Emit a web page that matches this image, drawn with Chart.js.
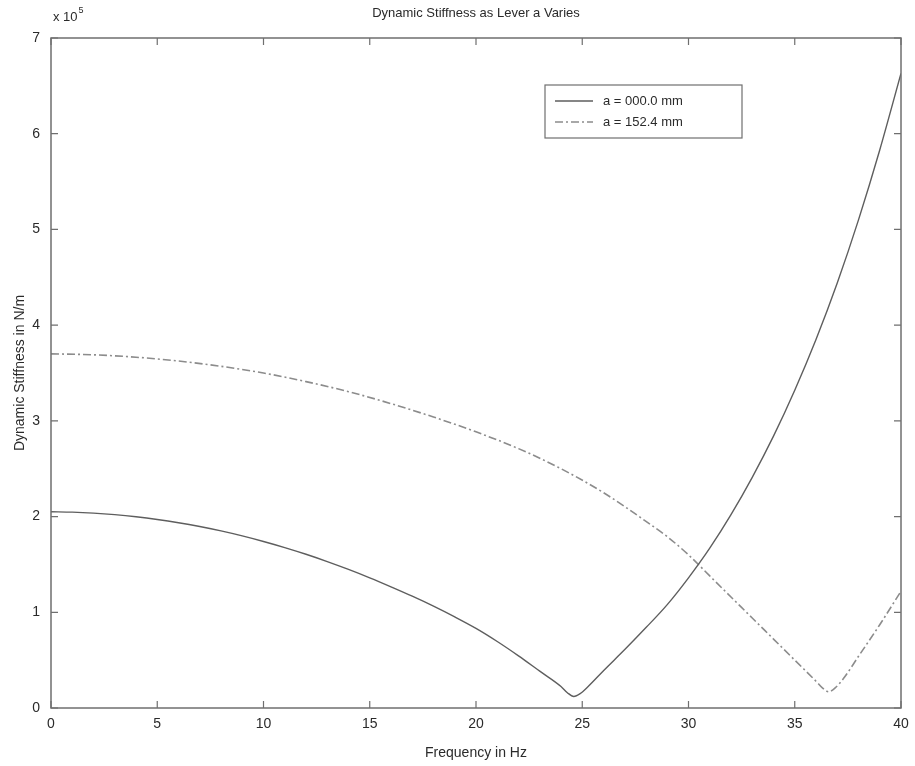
<!DOCTYPE html>
<html>
<head>
<meta charset="utf-8">
<script src="https://cdn.jsdelivr.net/npm/chart.js@4/dist/chart.umd.min.js"></script>
<style>
    html, body { margin: 0; padding: 0; background: #fff; }
    #wrap { width: 915px; height: 766px; }
</style>
</head>
<body>
<div id="wrap"><canvas id="stiffChart" width="915" height="766"></canvas></div>
<script>
// values, stiffness in units of 1e5 N/m
const freqA = [0, 1, 2, 3, 4, 5, 6, 7, 8, 9, 10, 11, 12, 13, 14, 15, 16, 17, 18, 19, 20, 21, 22, 23, 24, 24.3, 24.6, 24.9, 25.3, 26, 27, 28, 29, 30, 31, 32, 33, 34, 35, 36, 37, 38, 39, 40];
const stiffA = [2.05, 2.046, 2.036, 2.020, 1.998, 1.970, 1.936, 1.896, 1.850, 1.798, 1.740, 1.676, 1.606, 1.530, 1.448, 1.360, 1.266, 1.168, 1.064, 0.952, 0.832, 0.695, 0.545, 0.385, 0.225, 0.16, 0.12, 0.15, 0.23, 0.39, 0.61, 0.84, 1.08, 1.36, 1.67, 2.02, 2.41, 2.84, 3.32, 3.85, 4.44, 5.10, 5.83, 6.63];

const freqB = [0, 2, 4, 6, 8, 10, 12, 14, 16, 18, 20, 22, 24, 26, 28, 29, 30, 31, 32, 33, 34, 35, 36, 36.3, 36.6, 36.9, 37.3, 38, 39, 40];
const stiffB = [3.70, 3.69, 3.665, 3.625, 3.57, 3.50, 3.41, 3.305, 3.18, 3.04, 2.885, 2.71, 2.50, 2.25, 1.95, 1.79, 1.60, 1.38, 1.16, 0.94, 0.72, 0.50, 0.28, 0.21, 0.17, 0.21, 0.31, 0.54, 0.87, 1.22];

const seriesLabels = ['a = 000.0 mm', 'a = 152.4 mm'];
const xTicks = [0, 5, 10, 15, 20, 25, 30, 35, 40];
const yTicks = [0, 1, 2, 3, 4, 5, 6, 7];
const chartTitle = 'Dynamic Stiffness as Lever a Varies';
const xTitle = 'Frequency in Hz';
const yTitle = 'Dynamic Stiffness in N/m';
const exponentBase = 'x 10';
const exponentPow = '5';

const FONT = '"Liberation Sans", Arial, sans-serif';
const AXIS_COLOR = '#6f6f6f';
const TEXT_COLOR = '#2a2a2a';

function toPoints(xs, ys) {
    return xs.map((x, i) => ({ x: x, y: ys[i] }));
}

// box around the plot + matlab-style inward ticks
const boxAxes = {
    id: 'boxAxes',
    afterDatasetsDraw(chart) {
        const { ctx, chartArea: a, scales } = chart;
        ctx.save();
        ctx.strokeStyle = AXIS_COLOR;
        ctx.lineWidth = 1.5;
        ctx.strokeRect(a.left, a.top, a.right - a.left, a.bottom - a.top);
        ctx.lineWidth = 1.2;
        ctx.beginPath();
        xTicks.forEach(v => {
            const px = scales.x.getPixelForValue(v);
            ctx.moveTo(px, a.bottom); ctx.lineTo(px, a.bottom - 7);
            ctx.moveTo(px, a.top); ctx.lineTo(px, a.top + 7);
        });
        yTicks.forEach(v => {
            const py = scales.y.getPixelForValue(v);
            ctx.moveTo(a.left, py); ctx.lineTo(a.left + 7, py);
            ctx.moveTo(a.right, py); ctx.lineTo(a.right - 7, py);
        });
        ctx.stroke();
        ctx.restore();
    },
    afterDraw(chart) {
        const { ctx, chartArea: a } = chart;
        ctx.save();
        ctx.fillStyle = TEXT_COLOR;
        // title
        ctx.font = '13px ' + FONT;
        ctx.textAlign = 'center';
        ctx.textBaseline = 'middle';
        ctx.fillText(chartTitle, (a.left + a.right) / 2, 13);
        // exponent
        ctx.textAlign = 'left';
        ctx.font = '13px ' + FONT;
        ctx.fillText(exponentBase, a.left + 2, 17);
        const w = ctx.measureText(exponentBase).width;
        ctx.font = '9px ' + FONT;
        ctx.fillText(exponentPow, a.left + 3 + w, 11);

        // legend
        const lx = 545, ly = 85, lw = 197, lh = 53;
        ctx.fillStyle = '#fff';
        ctx.fillRect(lx, ly, lw, lh);
        ctx.strokeStyle = AXIS_COLOR;
        ctx.lineWidth = 1.2;
        ctx.strokeRect(lx, ly, lw, lh);
        chart.data.datasets.forEach((ds, i) => {
            const yy = ly + 16 + i * 21;
            ctx.strokeStyle = ds.borderColor;
            ctx.lineWidth = ds.borderWidth;
            ctx.setLineDash(ds.borderDash || []);
            ctx.beginPath();
            ctx.moveTo(lx + 10, yy);
            ctx.lineTo(lx + 48, yy);
            ctx.stroke();
            ctx.setLineDash([]);
            ctx.fillStyle = TEXT_COLOR;
            ctx.font = '13px ' + FONT;
            ctx.textBaseline = 'middle';
            ctx.fillText(ds.label, lx + 58, yy);
        });
        ctx.restore();
    }
};

const ctx = document.getElementById('stiffChart').getContext('2d');

const chart = new Chart(ctx, {
    type: 'line',
    data: {
        datasets: [
            {
                label: seriesLabels[0],
                data: toPoints(freqA, stiffA),
                borderColor: '#5e5e5e',
                borderWidth: 1.4,
                pointRadius: 0,
                cubicInterpolationMode: 'monotone'
            },
            {
                label: seriesLabels[1],
                data: toPoints(freqB, stiffB),
                borderColor: '#8c8c8c',
                borderWidth: 1.6,
                borderDash: [8, 3, 2, 3],
                pointRadius: 0,
                cubicInterpolationMode: 'monotone'
            }
        ]
    },
    options: {
        responsive: false,
        animation: false,
        layout: { padding: { top: 38, right: 14, left: 0, bottom: 0 } },
        plugins: {
            legend: { display: false },
            tooltip: { enabled: false }
        },
        scales: {
            x: {
                type: 'linear',
                min: 0,
                max: 40,
                afterFit(scale) { scale.height = 58; },
                afterBuildTicks(scale) { scale.ticks = xTicks.map(v => ({ value: v })); },
                grid: { display: false },
                border: { display: false },
                ticks: { color: TEXT_COLOR, font: { family: FONT, size: 14 }, padding: 0, maxRotation: 0 },
                title: { display: true, text: xTitle, color: TEXT_COLOR, font: { family: FONT, size: 14 }, padding: { top: 0 } }
            },
            y: {
                min: 0,
                max: 7,
                afterFit(scale) { scale.width = 51; },
                afterBuildTicks(scale) { scale.ticks = yTicks.map(v => ({ value: v })); },
                grid: { display: false },
                border: { display: false },
                ticks: { color: TEXT_COLOR, font: { family: FONT, size: 14 }, padding: 3 },
                title: { display: true, text: yTitle, color: TEXT_COLOR, font: { family: FONT, size: 14 }, padding: { bottom: 0, top: 12 } }
            }
        }
    },
    plugins: [boxAxes]
});
</script>
</body>
</html>
